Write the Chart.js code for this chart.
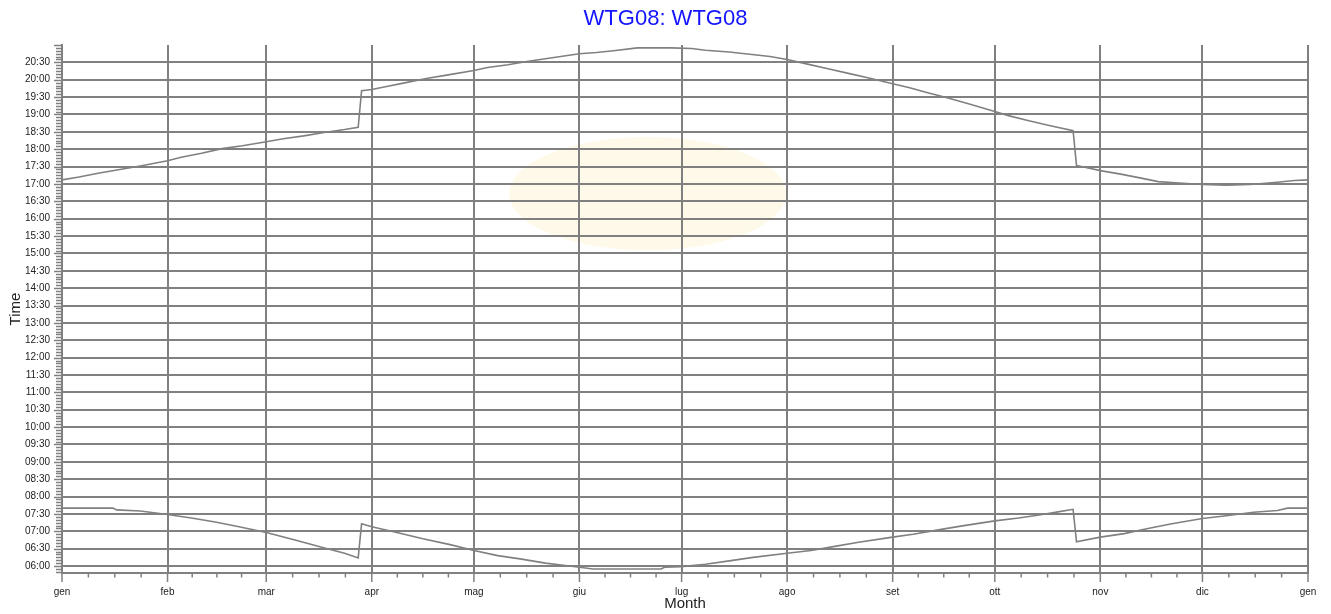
<!DOCTYPE html>
<html>
<head>
<meta charset="utf-8">
<title>WTG08</title>
<script src="https://cdn.jsdelivr.net/npm/chart.js@4.4.1/dist/chart.umd.min.js"></script>
<style>
  html, body { margin: 0; padding: 0; background: #ffffff; }
  #wrap { width: 1331px; height: 614px; }
</style>
</head>
<body>
<div id="wrap"><canvas id="chart" width="1331" height="614"></canvas></div>
<script>
// Month labels and the day of the (leap) year on which each month starts
const monthLabels = ['gen', 'feb', 'mar', 'apr', 'mag', 'giu', 'lug', 'ago', 'set', 'ott', 'nov', 'dic', 'gen'];
const monthStartDays = [0, 31, 60, 91, 121, 152, 182, 213, 244, 274, 305, 335, 366];

// Labelled times on the vertical axis
const timeTicks = ['06:00', '06:30', '07:00', '07:30', '08:00', '08:30', '09:00', '09:30',
  '10:00', '10:30', '11:00', '11:30', '12:00', '12:30', '13:00', '13:30', '14:00', '14:30',
  '15:00', '15:30', '16:00', '16:30', '17:00', '17:30', '18:00', '18:30', '19:00', '19:30',
  '20:00', '20:30'];

// Evening limit (local time, DST jumps included)
const sunsetDays = [0, 5, 11, 17, 23, 31, 35, 41, 47, 53, 60, 65, 71, 77, 83, 87, 88, 91, 95, 101,
  107, 113, 121, 125, 131, 137, 143, 152, 157, 162, 169, 179, 185, 189, 196, 202, 208, 213, 219,
  225, 231, 237, 244, 249, 254, 260, 266, 274, 278, 284, 290, 297, 298, 305, 311, 317, 322, 327,
  335, 342, 349, 357, 362, 366];
const sunsetTimes = ['17:07', '17:12', '17:19', '17:25', '17:31', '17:40', '17:46', '17:53', '18:01',
  '18:06', '18:13', '18:18', '18:23', '18:29', '18:34', '18:38', '19:41', '19:43', '19:48', '19:55',
  '20:02', '20:08', '20:16', '20:21', '20:26', '20:32', '20:37', '20:45', '20:47', '20:50', '20:55',
  '20:55', '20:54', '20:51', '20:48', '20:44', '20:40', '20:35', '20:27', '20:19', '20:11', '20:03',
  '19:53', '19:46', '19:38', '19:29', '19:19', '19:05', '18:58', '18:49', '18:41', '18:32', '17:32',
  '17:23', '17:17', '17:10', '17:04', '17:02', '16:59', '16:58', '16:59', '17:03', '17:06', '17:07'];

// Morning limit (local time, DST jumps included)
const sunriseDays = [0, 15, 16, 23, 31, 38, 45, 52, 60, 69, 76, 83, 87, 88, 91, 99, 106, 114, 121,
  128, 135, 142, 149, 152, 156, 176, 177, 182, 189, 196, 203, 213, 220, 227, 234, 244, 250, 257,
  264, 274, 281, 288, 293, 297, 298, 305, 312, 319, 326, 335, 342, 350, 357, 360, 366];
const sunriseTimes = ['07:40', '07:40', '07:37', '07:35', '07:29', '07:23', '07:16', '07:08', '06:58',
  '06:44', '06:33', '06:22', '06:14', '07:13', '07:08', '06:57', '06:47', '06:37', '06:27', '06:18',
  '06:12', '06:05', '06:00', '05:58', '05:55', '05:55', '05:58', '05:59', '06:03', '06:09', '06:15',
  '06:22', '06:27', '06:34', '06:41', '06:50', '06:55', '07:02', '07:09', '07:18', '07:23', '07:29',
  '07:34', '07:38', '06:42', '06:50', '06:56', '07:05', '07:13', '07:22', '07:27', '07:33', '07:36',
  '07:40', '07:40'];

const chartTitle = 'WTG08: WTG08';

// Pale sun disc behind the grid (centre and half-extent in axis units)
const sunCentreDay = 172;
const sunCentreHour = 16.72;
const sunHalfWidthDays = 40.7;
const sunHalfHeightHours = 1.63;

const GRID = 'rgb(128,128,128)';
const LINE = 'rgb(128,128,128)';
const TEXT = '#222222';
const FONT = "'Liberation Sans', Arial, Helvetica, sans-serif";

const toHours = s => { const [h, m] = s.split(':').map(Number); return h + m / 60; };
const toPoints = (days, times) => days.map((d, i) => ({ x: d, y: toHours(times[i]) }));

const sunDisc = {
  id: 'sunDisc',
  beforeDraw(chart) {
    const { ctx, scales: { x, y } } = chart;
    const cx = x.getPixelForValue(sunCentreDay);
    const cy = y.getPixelForValue(sunCentreHour);
    const rx = x.getPixelForValue(sunCentreDay + sunHalfWidthDays) - cx;
    const ry = cy - y.getPixelForValue(sunCentreHour + sunHalfHeightHours);
    ctx.save();
    ctx.fillStyle = 'rgb(255,249,234)';
    ctx.beginPath();
    ctx.ellipse(cx, cy, rx, ry, 0, 0, Math.PI * 2);
    ctx.fill();
    ctx.restore();
  }
};

// Title centred across the whole canvas
const pageTitle = {
  id: 'pageTitle',
  afterDraw(chart) {
    const { ctx, width } = chart;
    ctx.save();
    ctx.fillStyle = '#1414ff';
    ctx.font = `22px ${FONT}`;
    ctx.textAlign = 'center';
    ctx.textBaseline = 'alphabetic';
    ctx.fillText(chartTitle, width / 2, 25);
    ctx.restore();
  }
};

// Month / quarter-month marks below the x axis and 5-minute marks left of the y axis
const axisMarks = {
  id: 'axisMarks',
  afterDraw(chart) {
    const { ctx, scales: { x, y }, chartArea } = chart;
    const line = (x1, y1, x2, y2) => { ctx.beginPath(); ctx.moveTo(x1, y1); ctx.lineTo(x2, y2); ctx.stroke(); };
    ctx.save();
    ctx.strokeStyle = GRID;
    ctx.lineWidth = 1.5;
    const base = chartArea.bottom;
    for (let i = 0; i < monthStartDays.length; i++) {
      const px = x.getPixelForValue(monthStartDays[i]);
      line(px, base, px, base + 9);
      if (i < monthStartDays.length - 1) {
        const a = monthStartDays[i], b = monthStartDays[i + 1];
        for (let k = 1; k < 4; k++) {
          const q = x.getPixelForValue(a + (b - a) * k / 4);
          line(q, base, q, base + 4.5);
        }
      }
    }
    const left = chartArea.left;
    for (let m = 5 * 60 + 50; m <= 21 * 60; m += 5) {
      const py = Math.round(y.getPixelForValue(m / 60)) + 0.5;
      const len = m % 30 === 0 ? 8 : 6;
      line(left - len, py, left, py);
    }
    ctx.restore();
  }
};

new Chart(document.getElementById('chart'), {
  type: 'line',
  data: {
    datasets: [
      { label: 'sunset', data: toPoints(sunsetDays, sunsetTimes) },
      { label: 'sunrise', data: toPoints(sunriseDays, sunriseTimes) }
    ]
  },
  options: {
    responsive: false,
    animation: false,
    devicePixelRatio: 1,
    layout: { padding: { left: 0, right: 23, top: 45, bottom: 0 } },
    elements: {
      line: { borderColor: LINE, borderWidth: 1.6, tension: 0, fill: false },
      point: { radius: 0, hoverRadius: 0 }
    },
    plugins: {
      legend: { display: false },
      tooltip: { enabled: false },
      title: { display: false }
    },
    scales: {
      x: {
        type: 'linear',
        min: 0,
        max: 366,
        afterBuildTicks: s => { s.ticks = monthStartDays.map(v => ({ value: v })); },
        afterFit: s => { s.height = 41; },
        grid: { color: GRID, lineWidth: 2, drawTicks: false },
        border: { color: GRID, width: 2 },
        ticks: {
          color: TEXT,
          padding: 13,
          maxRotation: 0,
          autoSkip: false,
          font: { family: FONT, size: 10 },
          callback: (v, i) => monthLabels[i]
        },
        title: {
          display: true,
          text: 'Month',
          color: TEXT,
          font: { family: FONT, size: 15 },
          padding: { top: 0, bottom: 1.5 }
        }
      },
      y: {
        type: 'linear',
        min: 5.8,
        max: 21,
        afterBuildTicks: s => { s.ticks = timeTicks.map(t => ({ value: toHours(t) })); },
        afterFit: s => { s.width = 62; },
        grid: { color: GRID, lineWidth: 2, drawTicks: false },
        border: { color: GRID, width: 2 },
        ticks: {
          color: TEXT,
          padding: 12,
          autoSkip: false,
          font: { family: FONT, size: 10 },
          callback: (v, i) => timeTicks[i]
        },
        title: {
          display: true,
          text: 'Time',
          color: TEXT,
          font: { family: FONT, size: 15 },
          padding: { top: 6.5, bottom: 0 }
        }
      }
    }
  },
  plugins: [sunDisc, axisMarks, pageTitle]
});
</script>
</body>
</html>
